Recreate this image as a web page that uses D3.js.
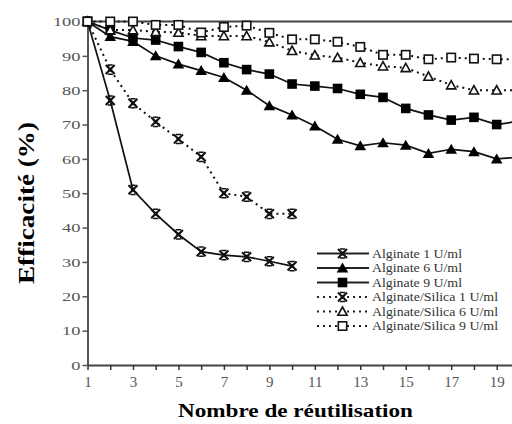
<!DOCTYPE html>
<html><head><meta charset="utf-8">
<script src="https://cdn.jsdelivr.net/npm/d3@7"></script>
<style>body{margin:0;background:#fff} svg{display:block}</style>
</head><body>
<svg id="c" width="512" height="424"></svg>
<script>
// ---- data ----
const reuse = [1,2,3,4,5,6,7,8,9,10,11,12,13,14,15,16,17,18,19,20];
const xTickLabels = [1,3,5,7,9,11,13,15,17,19];
const yTicks = [0,10,20,30,40,50,60,70,80,90,100];
const alg1 = [100, 77, 51, 44, 38, 33, 32, 31.5, 30.2, 28.8];
const alg6 = [100, 95.6, 94.2, 90, 87.6, 85.7, 83.7, 80, 75.5, 72.8, 69.6, 65.7, 63.8, 64.7, 64, 61.6, 62.8, 62.1, 60, 60.5];
const alg9 = [100, 97.5, 95.2, 94.6, 92.7, 91, 88, 86, 84.7, 81.8, 81.2, 80.5, 78.8, 77.9, 74.7, 72.8, 71.3, 72.1, 70, 71];
const as1 = [100, 86, 76.2, 70.8, 65.8, 60.6, 50, 49, 44, 44];
const as6 = [100, 97.5, 97.5, 97, 96.8, 95.8, 95.8, 95.8, 94, 91.5, 90.2, 89.5, 88, 87, 86.5, 84, 81.5, 80, 80, 80];
const as9 = [100, 100, 100, 99, 99, 96.8, 98.4, 98.8, 96.7, 94.8, 94.8, 94.1, 92.6, 90.3, 90.3, 89, 89.5, 89.2, 89, 89];
const seriesNames = ["Alginate 1 U/ml","Alginate 6 U/ml","Alginate 9 U/ml","Alginate/Silica 1 U/ml","Alginate/Silica 6 U/ml","Alginate/Silica 9 U/ml"];
const xTitle = "Nombre de réutilisation";
const yTitle = "Efficacité (%)";

const series = [
  {name: seriesNames[0], values: alg1, dashed: false, marker: "star"},
  {name: seriesNames[1], values: alg6, dashed: false, marker: "triF"},
  {name: seriesNames[2], values: alg9, dashed: false, marker: "sqF"},
  {name: seriesNames[3], values: as1, dashed: true, marker: "star"},
  {name: seriesNames[4], values: as6, dashed: true, marker: "triO"},
  {name: seriesNames[5], values: as9, dashed: true, marker: "sqO"}
];

const svg = d3.select("#c");
const x = d3.scaleLinear().domain([1,20]).range([87.5, 519.4]);
const y = d3.scaleLinear().domain([0,100]).range([365, 21.5]);
const serif = "'Liberation Serif','Times New Roman',serif";

// top frame line
svg.append("line").attr("x1", x(1)).attr("x2", 512).attr("y1", y(100)).attr("y2", y(100))
  .attr("stroke", "#444").attr("stroke-width", 2);

// axes
const gx = svg.append("g").attr("transform", `translate(0,${y(0)})`)
  .call(d3.axisBottom(x).tickValues(reuse).tickSize(5).tickSizeOuter(0).tickPadding(6)
    .tickFormat(d => xTickLabels.includes(d) ? d : ""));
gx.select(".domain").attr("stroke", "#444").attr("stroke-width", 2);
gx.selectAll(".tick line").attr("stroke", "#333").attr("stroke-width", 1.5);
gx.selectAll(".tick text").attr("font-family", serif).attr("font-size", 15).attr("fill", "#555");

const gy = svg.append("g").attr("transform", `translate(${x(1)},0)`)
  .call(d3.axisLeft(y).tickValues(yTicks).tickSize(5).tickSizeOuter(0).tickPadding(2));
gy.select(".domain").attr("stroke", "#555").attr("stroke-width", 2);
gy.selectAll(".tick line").attr("stroke", "#555").attr("stroke-width", 1.5);
gy.selectAll(".tick text").attr("font-family", serif).attr("font-size", 13).attr("fill", "#555")
  .attr("textLength", d => String(d).length * 9.2).attr("lengthAdjust", "spacingAndGlyphs");

// markers
function drawMarker(g, type) {
  if (type === "star") {
    g.append("path").attr("d", "M-4.5,-4.5L4.5,4.5M-4.5,4.5L4.5,-4.5")
      .attr("stroke", "#111").attr("stroke-width", 2.1).attr("fill", "none");
    g.append("path").attr("d", "M-2.6,-4.6H2.6M-2.6,4.6H2.6")
      .attr("stroke", "#111").attr("stroke-width", 1.5).attr("fill", "none");
    g.append("circle").attr("r", 2).attr("fill", "#111");
  } else if (type === "triF") {
    g.append("path").attr("d", "M0,-5.5L5.8,4.5L-5.8,4.5Z").attr("fill", "#000");
  } else if (type === "sqF") {
    g.append("rect").attr("x", -4.8).attr("y", -4.8).attr("width", 9.6).attr("height", 9.6).attr("fill", "#000");
  } else if (type === "triO") {
    g.append("path").attr("d", "M0,-4.5L4.6,3.8L-4.6,3.8Z").attr("fill", "#fff")
      .attr("stroke", "#111").attr("stroke-width", 1.6);
  } else if (type === "sqO") {
    g.append("rect").attr("x", -4.2).attr("y", -4.2).attr("width", 8.4).attr("height", 8.4)
      .attr("fill", "#fff").attr("stroke", "#111").attr("stroke-width", 1.6);
  }
}

const line = d3.line().x((d, i) => x(reuse[i])).y(d => y(d));
series.forEach(s => {
  svg.append("path").datum(s.values).attr("d", line).attr("fill", "none")
    .attr("stroke", "#111").attr("stroke-width", s.dashed ? 2 : 1.7)
    .attr("stroke-dasharray", s.dashed ? "2,4" : null);
});
series.forEach(s => {
  s.values.forEach((v, i) => {
    const g = svg.append("g").attr("transform", `translate(${x(reuse[i])},${y(v)})`);
    drawMarker(g, s.marker);
  });
});

// legend
const legY = [253.5, 268, 282.5, 297, 311.5, 326];
series.forEach((s, i) => {
  const ly = legY[i];
  svg.append("line").attr("x1", 317).attr("x2", 369).attr("y1", ly).attr("y2", ly)
    .attr("stroke", "#222").attr("stroke-width", s.dashed ? 2 : 1.8)
    .attr("stroke-dasharray", s.dashed ? "2,4" : null);
  const g = svg.append("g").attr("transform", `translate(342.5,${ly})`);
  drawMarker(g, s.marker);
  svg.append("text").attr("x", 372).attr("y", ly + 4).text(s.name)
    .attr("font-family", serif).attr("font-size", 11.5).attr("fill", "#333")
    .attr("textLength", s.dashed ? 126 : 90).attr("lengthAdjust", "spacingAndGlyphs");
});

// titles
svg.append("text").attr("x", 295.5).attr("y", 417).attr("text-anchor", "middle")
  .attr("font-family", serif).attr("font-weight", "bold").attr("font-size", 19).attr("fill", "#000")
  .attr("textLength", 235).attr("lengthAdjust", "spacingAndGlyphs").text(xTitle);
svg.append("text").attr("transform", "translate(34,203) rotate(-90)").attr("text-anchor", "middle")
  .attr("font-family", serif).attr("font-weight", "bold").attr("font-size", 23).attr("fill", "#000")
  .attr("textLength", 162).attr("lengthAdjust", "spacingAndGlyphs").text(yTitle);
</script>
</body></html>
